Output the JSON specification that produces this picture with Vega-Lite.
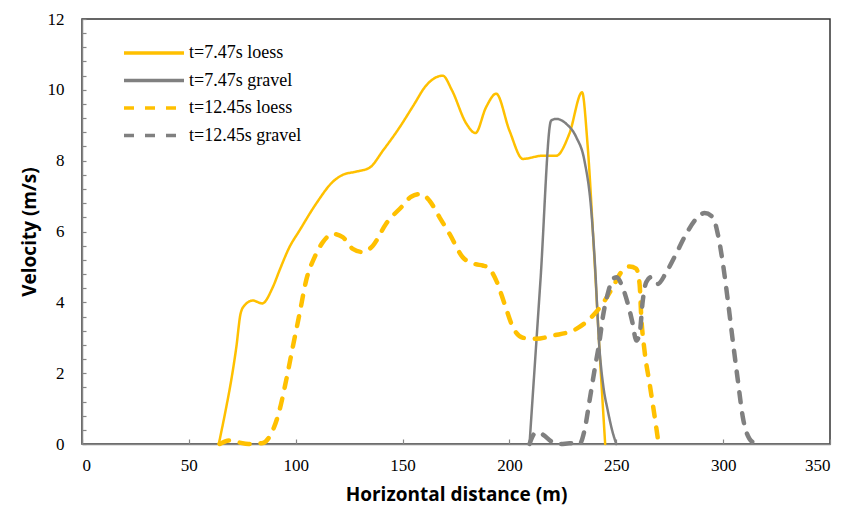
{
  "$schema": "https://vega.github.io/schema/vega-lite/v6.json",
  "autosize": "none",
  "width": 748,
  "height": 425,
  "padding": {"left": 82, "top": 19, "right": 15, "bottom": 64},
  "background": "white",
  "config": {"view": {"stroke": "#333333", "strokeWidth": 1.5}},
  "data": {"values": [
    {"s":"t=7.47s loess","x":64,"y":0},{"s":"t=7.47s loess","x":67.5,"y":1.04},{"s":"t=7.47s loess","x":69.8,"y":1.79},{"s":"t=7.47s loess","x":72.2,"y":2.73},{"s":"t=7.47s loess","x":74.2,"y":3.68},{"s":"t=7.47s loess","x":76,"y":3.91},{"s":"t=7.47s loess","x":79.9,"y":4.05},{"s":"t=7.47s loess","x":84.3,"y":3.97},{"s":"t=7.47s loess","x":89.3,"y":4.43},{"s":"t=7.47s loess","x":92.4,"y":4.9},{"s":"t=7.47s loess","x":97,"y":5.55},{"s":"t=7.47s loess","x":101.8,"y":6.03},{"s":"t=7.47s loess","x":109.6,"y":6.79},{"s":"t=7.47s loess","x":117.3,"y":7.4},{"s":"t=7.47s loess","x":122,"y":7.6},{"s":"t=7.47s loess","x":128.3,"y":7.69},{"s":"t=7.47s loess","x":134.5,"y":7.8},{"s":"t=7.47s loess","x":141,"y":8.3},{"s":"t=7.47s loess","x":148.6,"y":8.94},{"s":"t=7.47s loess","x":155,"y":9.55},{"s":"t=7.47s loess","x":161,"y":10.12},{"s":"t=7.47s loess","x":168.8,"y":10.4},{"s":"t=7.47s loess","x":173,"y":10.0},{"s":"t=7.47s loess","x":179.8,"y":9.05},{"s":"t=7.47s loess","x":184.1,"y":8.78},{"s":"t=7.47s loess","x":189,"y":9.5},{"s":"t=7.47s loess","x":193.8,"y":9.89},{"s":"t=7.47s loess","x":200,"y":8.85},{"s":"t=7.47s loess","x":206.3,"y":8.05},{"s":"t=7.47s loess","x":215.6,"y":8.14},{"s":"t=7.47s loess","x":221.9,"y":8.14},{"s":"t=7.47s loess","x":228.1,"y":8.77},{"s":"t=7.47s loess","x":234,"y":9.93},{"s":"t=7.47s loess","x":236.5,"y":8.5},{"s":"t=7.47s loess","x":239.8,"y":5.2},{"s":"t=7.47s loess","x":242.2,"y":2.6},{"s":"t=7.47s loess","x":244.8,"y":0},
    {"s":"t=7.47s gravel","x":209.4,"y":0},{"s":"t=7.47s gravel","x":214.5,"y":4.6},{"s":"t=7.47s gravel","x":219.5,"y":9.13},{"s":"t=7.47s gravel","x":221.9,"y":9.18},{"s":"t=7.47s gravel","x":226.6,"y":9.04},{"s":"t=7.47s gravel","x":231.3,"y":8.66},{"s":"t=7.47s gravel","x":235.1,"y":8.0},{"s":"t=7.47s gravel","x":238.3,"y":6.59},{"s":"t=7.47s gravel","x":239.8,"y":5.3},{"s":"t=7.47s gravel","x":242.2,"y":2.64},{"s":"t=7.47s gravel","x":244,"y":1.6},{"s":"t=7.47s gravel","x":246,"y":0.95},{"s":"t=7.47s gravel","x":248,"y":0.4},{"s":"t=7.47s gravel","x":250,"y":0},
    {"s":"t=12.45s loess","x":64.4,"y":0},{"s":"t=12.45s loess","x":69,"y":0.1},{"s":"t=12.45s loess","x":73,"y":0.05},{"s":"t=12.45s loess","x":78,"y":0},{"s":"t=12.45s loess","x":84.6,"y":0.03},{"s":"t=12.45s loess","x":88.5,"y":0.29},{"s":"t=12.45s loess","x":92.4,"y":0.95},{"s":"t=12.45s loess","x":95.5,"y":1.79},{"s":"t=12.45s loess","x":98.6,"y":2.73},{"s":"t=12.45s loess","x":101.8,"y":3.68},{"s":"t=12.45s loess","x":104.9,"y":4.62},{"s":"t=12.45s loess","x":108.8,"y":5.27},{"s":"t=12.45s loess","x":112.7,"y":5.7},{"s":"t=12.45s loess","x":117.4,"y":5.93},{"s":"t=12.45s loess","x":122,"y":5.84},{"s":"t=12.45s loess","x":126.7,"y":5.51},{"s":"t=12.45s loess","x":131.4,"y":5.42},{"s":"t=12.45s loess","x":136.1,"y":5.6},{"s":"t=12.45s loess","x":142.3,"y":6.22},{"s":"t=12.45s loess","x":150.1,"y":6.73},{"s":"t=12.45s loess","x":154,"y":6.98},{"s":"t=12.45s loess","x":158.7,"y":7.06},{"s":"t=12.45s loess","x":162.6,"y":6.87},{"s":"t=12.45s loess","x":167.3,"y":6.4},{"s":"t=12.45s loess","x":172,"y":5.93},{"s":"t=12.45s loess","x":178.2,"y":5.27},{"s":"t=12.45s loess","x":184,"y":5.08},{"s":"t=12.45s loess","x":187.5,"y":5.04},{"s":"t=12.45s loess","x":189.9,"y":4.99},{"s":"t=12.45s loess","x":193.8,"y":4.62},{"s":"t=12.45s loess","x":197.7,"y":3.96},{"s":"t=12.45s loess","x":201.6,"y":3.3},{"s":"t=12.45s loess","x":206.3,"y":3.0},{"s":"t=12.45s loess","x":212.5,"y":2.97},{"s":"t=12.45s loess","x":220.3,"y":3.06},{"s":"t=12.45s loess","x":231.3,"y":3.25},{"s":"t=12.45s loess","x":237.5,"y":3.53},{"s":"t=12.45s loess","x":243,"y":3.91},{"s":"t=12.45s loess","x":248.4,"y":4.43},{"s":"t=12.45s loess","x":252.3,"y":4.85},{"s":"t=12.45s loess","x":256.2,"y":5.01},{"s":"t=12.45s loess","x":259.3,"y":4.95},{"s":"t=12.45s loess","x":260.9,"y":4.52},{"s":"t=12.45s loess","x":261.7,"y":3.58},{"s":"t=12.45s loess","x":263.2,"y":2.64},{"s":"t=12.45s loess","x":265.6,"y":1.7},{"s":"t=12.45s loess","x":268.7,"y":0.47},{"s":"t=12.45s loess","x":269.8,"y":0},
    {"s":"t=12.45s gravel","x":209.4,"y":0},{"s":"t=12.45s gravel","x":211.7,"y":0.29},{"s":"t=12.45s gravel","x":214,"y":0.33},{"s":"t=12.45s gravel","x":216,"y":0.25},{"s":"t=12.45s gravel","x":220.3,"y":0.05},{"s":"t=12.45s gravel","x":224,"y":0},{"s":"t=12.45s gravel","x":228.1,"y":0.02},{"s":"t=12.45s gravel","x":232.8,"y":0},{"s":"t=12.45s gravel","x":235.1,"y":0.38},{"s":"t=12.45s gravel","x":237.5,"y":1.23},{"s":"t=12.45s gravel","x":239.8,"y":2.08},{"s":"t=12.45s gravel","x":242.2,"y":2.92},{"s":"t=12.45s gravel","x":243.7,"y":3.58},{"s":"t=12.45s gravel","x":246,"y":4.24},{"s":"t=12.45s gravel","x":248.4,"y":4.66},{"s":"t=12.45s gravel","x":250.3,"y":4.71},{"s":"t=12.45s gravel","x":252.3,"y":4.52},{"s":"t=12.45s gravel","x":255.4,"y":3.96},{"s":"t=12.45s gravel","x":257.7,"y":3.39},{"s":"t=12.45s gravel","x":259.3,"y":2.92},{"s":"t=12.45s gravel","x":260.9,"y":3.11},{"s":"t=12.45s gravel","x":262.4,"y":4.05},{"s":"t=12.45s gravel","x":264,"y":4.57},{"s":"t=12.45s gravel","x":266.3,"y":4.71},{"s":"t=12.45s gravel","x":269.4,"y":4.52},{"s":"t=12.45s gravel","x":273.4,"y":4.85},{"s":"t=12.45s gravel","x":278,"y":5.37},{"s":"t=12.45s gravel","x":282.7,"y":5.93},{"s":"t=12.45s gravel","x":287.4,"y":6.36},{"s":"t=12.45s gravel","x":291.3,"y":6.52},{"s":"t=12.45s gravel","x":295.2,"y":6.4},{"s":"t=12.45s gravel","x":297.5,"y":5.93},{"s":"t=12.45s gravel","x":299.9,"y":5.09},{"s":"t=12.45s gravel","x":302.2,"y":4.05},{"s":"t=12.45s gravel","x":304.5,"y":2.92},{"s":"t=12.45s gravel","x":306.9,"y":1.79},{"s":"t=12.45s gravel","x":309.2,"y":0.76},{"s":"t=12.45s gravel","x":312.3,"y":0.15},{"s":"t=12.45s gravel","x":315.5,"y":0}
  ]},
  "encoding": {
    "x": {"field": "x", "type": "quantitative",
      "scale": {"domain": [0, 350], "nice": false, "zero": false},
      "axis": {"title": "Horizontal distance (m)", "values": [0,50,100,150,200,250,300,350], "grid": false, "format": "d",
        "domainColor": "#868686", "domainWidth": 1.5, "tickColor": "#868686", "tickWidth": 1.2, "tickSize": -5,
        "labelFont": "Liberation Serif", "labelFontSize": 17, "labelColor": "#000000", "labelPadding": 18,
        "titleFont": "Open Sans", "titleFontWeight": "bold", "titleFontSize": 19, "titleColor": "#000000", "titlePadding": 12}},
    "y": {"field": "y", "type": "quantitative",
      "scale": {"domain": [0, 12], "nice": false, "zero": false},
      "axis": {"title": "Velocity (m/s)", "values": [0,0.4,0.8,1.2,1.6,2,2.4,2.8,3.2,3.6,4,4.4,4.8,5.2,5.6,6,6.4,6.8,7.2,7.6,8,8.4,8.8,9.2,9.6,10,10.4,10.8,11.2,11.6,12],
        "labelExpr": "datum.value % 2 == 0 ? format(datum.value, 'd') : ''", "grid": false,
        "domainColor": "#868686", "domainWidth": 1.5, "tickColor": "#868686", "tickWidth": 1.2, "tickSize": -4,
        "labelFont": "Liberation Serif", "labelFontSize": 17, "labelColor": "#000000", "labelPadding": 22,
        "titleFont": "Open Sans", "titleFontWeight": "bold", "titleFontSize": 19, "titleColor": "#000000", "titlePadding": 8}},
    "color": {"field": "s", "type": "nominal",
      "scale": {"domain": ["t=7.47s loess","t=7.47s gravel","t=12.45s loess","t=12.45s gravel"], "range": ["#FFC000","#808080","#FFC000","#808080"]},
      "legend": {"title": null, "orient": "none", "legendX": 80, "legendY": 22, "symbolType": "M-5,0H1", "symbolSize": 400, "symbolStrokeWidth": 3.5,
        "labelFont": "Liberation Serif", "labelFontSize": 18, "labelColor": "#000000", "labelOffset": 3, "rowPadding": 6.5}},
    "strokeDash": {"field": "s", "type": "nominal",
      "scale": {"domain": ["t=7.47s loess","t=7.47s gravel","t=12.45s loess","t=12.45s gravel"], "range": [[1,0],[1,0],[10,11],[10,11]]}}
  },
  "layer": [
    {"transform": [{"filter": "indexof(datum.s, '7.47') >= 0"}],
     "mark": {"type": "line", "interpolate": "monotone", "strokeWidth": 2.5, "strokeCap": "round", "strokeJoin": "round"}},
    {"transform": [{"filter": "indexof(datum.s, '12.45') >= 0"}],
     "mark": {"type": "line", "interpolate": "monotone", "strokeWidth": 4.5, "strokeCap": "round", "strokeJoin": "round"}}
  ]
}
